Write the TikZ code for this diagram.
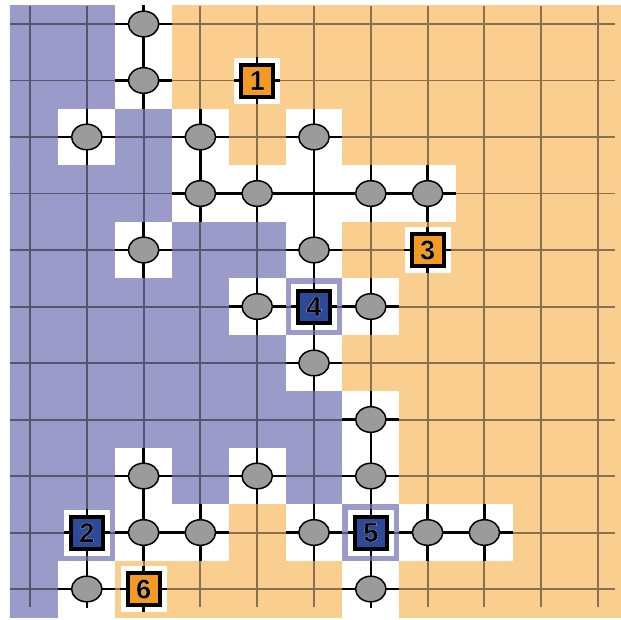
\documentclass[tikz,border=0pt]{standalone}
\usepackage{fontspec}
\setmainfont{Liberation Sans}
\usepackage{xcolor}
\usepackage{tikz}
\usetikzlibrary{shapes.geometric}
\definecolor{cellp}{HTML}{9B9BC9}
\definecolor{cello}{HTML}{FACE8F}
\definecolor{cellw}{HTML}{FFFFFF}
\definecolor{tokorange}{HTML}{F49A20}
\definecolor{tokblue}{HTML}{2D4A9A}
\definecolor{sitegray}{HTML}{9B9B9B}
\newcommand{\tokfont}{\fontsize{19.5}{19.5}\selectfont\bfseries}
% black glyph, white rim (text render mode 2)
\newcommand{\rimmed}[1]{\special{pdf:literal direct 2 Tr 0.1 w 1 1 1 RG}#1\special{pdf:literal direct 0 Tr}}
% p = purple, o = orange, w = free (white); one row per line
\newcommand{\cellmap}{%
  {p,p,w,o,o,o,o,o,o,o,o},
  {p,p,w,o,o,o,o,o,o,o,o},
  {p,w,p,w,o,w,o,o,o,o,o},
  {p,p,p,w,w,w,w,w,o,o,o},
  {p,p,w,p,p,w,o,o,o,o,o},
  {p,p,p,p,w,p,w,o,o,o,o},
  {p,p,p,p,p,w,o,o,o,o,o},
  {p,p,p,p,p,p,w,o,o,o,o},
  {p,p,w,p,w,p,w,o,o,o,o},
  {p,p,w,w,o,w,p,w,w,o,o},
  {p,w,o,o,o,o,w,o,o,o,o}}
\tikzset{
  gridline/.style={line width=1.4pt,draw=black,draw opacity=0.45},
  edge/.style={line width=1.8pt,draw=black},
  site/.style={ellipse,draw=black,line width=1.05pt,fill=sitegray,
               minimum width=0.76cm,minimum height=0.64cm,inner sep=0pt},
  halo/.style={fill=white,minimum size=1.15cm,inner sep=0pt},
  token/.style={draw=black,line width=0.1cm,fill=#1,text=black,
                minimum size=0.8cm,inner sep=0pt,font=\tokfont},
}

\begin{document}
\begin{tikzpicture}[x=1.42cm,y=-1.4125cm]
  \useasboundingbox (-0.528,-0.425) rectangle (10.405,10.531);

  % ---------- cells ----------
  \begin{scope}
    \clip (-0.352,-0.319) rectangle (10.405,10.531);
    \foreach \rowcells [count=\r from 0] in \cellmap {
      \foreach \kind [count=\c from 0] in \rowcells
        \fill[fill=cell\kind] (\c-0.5,\r-0.5) rectangle ++(1.01,1.01);
    }
  \end{scope}

  % ---------- grid ----------
  \draw[gridline] \foreach \k in {0,...,10} {(-0.352,\k) -- (10.3,\k) (\k,-0.319) -- (\k,10.32)};

  % ---------- free cells ----------
  \begin{scope}
    \clip (-0.352,-0.319) rectangle (10.3,10.32);
    \foreach \rowcells [count=\r from 0] in \cellmap {
      \foreach \kind [count=\c from 0] in \rowcells {
        \if w\kind
          \draw[edge] (\c-0.5,\r) -- (\c+0.5,\r) (\c,\r-0.5) -- (\c,\r+0.5);
        \fi
      }
    }
  \end{scope}

  % ---------- sites ----------
  \foreach \c/\r in {2/0,2/1,1/2,3/2,5/2,3/3,4/3,6/3,7/3,2/4,5/4,4/5,6/5,
                     5/6,6/7,2/8,4/8,6/8,2/9,3/9,5/9,7/9,8/9,1/10,6/10}
    \node[site] (s-\c-\r) at (\c,\r) {};

  % ---------- tokens ----------
  \foreach \c/\r/\lab/\col in {4/1/1/tokorange,1/9/2/tokblue,7/4/3/tokorange,
                               5/5/4/tokblue,6/9/5/tokblue,2/10/6/tokorange} {
    \node[halo] (h\lab) at (\c,\r) {};
    \draw[edge] (h\lab.west) -- (h\lab.east) (h\lab.north) -- (h\lab.south);
    \node[token=\col] (t\lab) at (\c,\r) {\rimmed{\lab}};
  }
\end{tikzpicture}
\end{document}
